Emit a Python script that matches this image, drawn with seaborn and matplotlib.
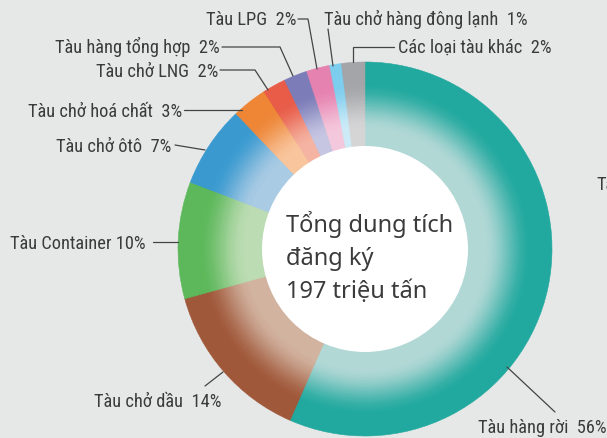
import numpy as np
import matplotlib
matplotlib.use("Agg")
import matplotlib.pyplot as plt
from matplotlib import font_manager
from matplotlib.patches import Circle
import seaborn as sns

# data
names = ["Tàu hàng rời", "Tàu chở dầu", "Tàu Container", "Tàu chở ôtô", "Tàu chở hoá chất",
         "Tàu chở LNG", "Tàu hàng tổng hợp", "Tàu LPG", "Tàu chở hàng đông lạnh", "Các loại tàu khác"]
shares = [56, 14, 10, 7, 3, 2, 2, 2, 1, 2]
seps = ["  ", "  ", " ", "  ", "  ", "  ", "  ", "  ", "  ", "  "]
center_lines = ["Tổng dung tích", "đăng ký", "197 triệu tấn"]

dark = ["#21a99f", "#a0583a", "#5cb85a", "#3a9ad0", "#ee8636",
        "#e85c48", "#7b7cb8", "#e682b0", "#7dcdee", "#a3a5a8"]
light = ["#b2d8d6", "#d2b3a0", "#bcdcb3", "#aacbe4", "#f9c59d",
         "#f5b3a2", "#c6c5e2", "#f4c8dc", "#cdeaf7", "#d5d5d6"]

# label layout in pixels: (x, baseline y, ha, leader points)
layout = [
    (478, 433, "left", [(507, 368), (555, 413)]),
    (221, 407, "right", [(223, 373), (205, 387)]),
    (146, 249, "right", [(153, 243), (178, 243)]),
    (171, 152, "right", [(175, 146), (205, 151)]),
    (182, 117, "right", [(184, 111), (242, 111)]),
    (218, 77, "right", [(220, 71), (255, 71), (268, 91)]),
    (220, 53, "right", [(222, 48), (280, 48), (293, 77)]),
    (297, 25, "right", [(298, 20), (308, 20), (317, 70)]),
    (324, 25, "left", [(328, 30), (333, 67)]),
    (398, 53, "left", [(394, 48), (353, 48), (353, 63)]),
]


def pick_font(options):
    for f in options:
        try:
            font_manager.findfont(f, fallback_to_default=False)
            return f
        except Exception:
            pass
    return "DejaVu Sans"


sns.set_theme(style="white")
label_font = pick_font(["Liberation Sans Narrow", "Roboto Condensed", "DejaVu Sans"])
big_font = pick_font(["Noto Sans", "Open Sans", "DejaVu Sans"])

W, H = 607, 439
bg = "#e6e8e7"
ink = "#3b3b3b"
fig = plt.figure(figsize=(W / 100, H / 100), dpi=100, facecolor=bg)
ax = fig.add_axes([0, 0, 1, 1])
ax.set_facecolor(bg)

cx, cy = 365, H - 250
r_in, r_out = 103, 187
n = 60
dr = (r_out - r_in) / n
pals = [sns.blend_palette([l, d], n_colors=n) for l, d in zip(light, dark)]

for k in range(n):
    t = (k + 0.5) / n
    s = np.clip((t - 0.2) / 0.58, 0, 1)
    s = s * s * (3 - 2 * s)
    idx = int(round(s * (n - 1)))
    cols = [p[idx] for p in pals]
    wedges, _ = ax.pie(shares, radius=r_in + (k + 1) * dr, colors=cols, startangle=90,
                       counterclock=False, center=(cx, cy),
                       wedgeprops=dict(width=dr * 1.6, linewidth=0.4))
    for w in wedges:
        w.set_edgecolor(w.get_facecolor())

ax.add_patch(Circle((cx, cy), r_in, facecolor="white", edgecolor="none", zorder=3))

for i, (x, y, ha, pts) in enumerate(layout):
    ax.text(x, H - y, f"{names[i]}{seps[i]}{shares[i]}%", ha=ha, va="baseline",
            fontsize=13.2, color=ink, family=label_font)
    ax.plot([p[0] for p in pts], [H - p[1] for p in pts], color="#444444", lw=0.9,
            solid_joinstyle="miter")

ax.text(596, H - 190, "Tàu", ha="left", va="baseline", fontsize=13.2, color=ink, family=label_font)

for j, line in enumerate(center_lines):
    ax.text(286, H - (232 + 33 * j), line, ha="left", va="baseline", fontsize=17,
            color=ink, family=big_font, zorder=4)

ax.set_xlim(0, W)
ax.set_ylim(0, H)
ax.set_aspect("equal")
ax.axis("off")
fig.savefig("out.png", dpi=100, facecolor=bg)
